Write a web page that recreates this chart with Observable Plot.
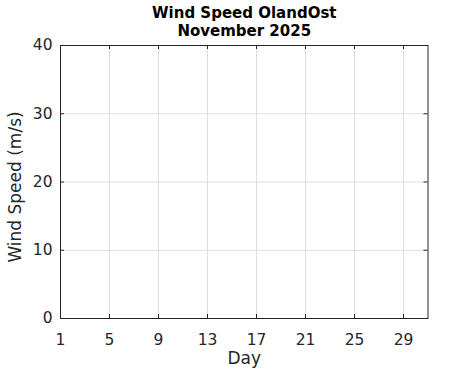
<!DOCTYPE html>
<html><head><meta charset="utf-8">
<script src="https://cdn.jsdelivr.net/npm/d3@7"></script>
<script src="https://cdn.jsdelivr.net/npm/@observablehq/plot@0.6"></script>
<style>body{margin:0;background:#fff} svg{display:block}</style>
</head><body><div id="chart"></div><script>
// Data (the reference chart shows no measurements for the month)
const days = [];
const windSpeed = [];
const xTicks = [1, 5, 9, 13, 17, 21, 25, 29];
const yTicks = [0, 10, 20, 30, 40];
const titleLine1 = "Wind Speed OlandOst";
const titleLine2 = "November 2025";
const xLabel = "Day";
const yLabel = "Wind Speed (m/s)";

const data = days.map((d, i) => ({day: d, speed: windSpeed[i]}));
const W = 471, H = 371, mL = 60, mR = 43.5, mT = 45, mB = 53;
const pw = W - mL - mR, ph = H - mT - mB, tk = 4;
const fg = "#262626";
const font = "DejaVu Sans";

const chart = Plot.plot({
  width: W, height: H,
  marginLeft: mL, marginRight: mR, marginTop: mT, marginBottom: mB,
  style: {fontFamily: font, background: "#fff", color: fg, overflow: "visible"},
  x: {domain: [1, 31], ticks: xTicks},
  y: {domain: [0, 40], ticks: yTicks},
  marks: [
    Plot.gridX(xTicks, {stroke: "#dedede", strokeOpacity: 1}),
    Plot.gridY(yTicks, {stroke: "#dedede", strokeOpacity: 1}),
    Plot.line(data, {x: "day", y: "speed", stroke: "#0072bd"}),
    Plot.tickX(xTicks, {x: d => d, insetTop: ph - tk, stroke: fg}),
    Plot.tickX(xTicks, {x: d => d, insetBottom: ph - tk, stroke: fg}),
    Plot.tickY(yTicks, {y: d => d, insetRight: pw - tk, stroke: fg}),
    Plot.tickY(yTicks, {y: d => d, insetLeft: pw - tk, stroke: fg}),
    Plot.frame({stroke: fg, strokeWidth: 1}),
    Plot.axisX(xTicks, {tickSize: 0, tickPadding: 15, fontSize: 15.5, fill: fg, label: null}),
    Plot.axisY(yTicks, {tickSize: 0, tickPadding: 8, fontSize: 15.5, fill: fg, label: null}),
    Plot.text([xLabel], {frameAnchor: "bottom", textAnchor: "middle", lineAnchor: "middle", dy: 40.5, fontSize: 17, fill: fg}),
    Plot.text([yLabel], {frameAnchor: "left", textAnchor: "middle", lineAnchor: "middle", rotate: -90, dx: -45, dy: 5, fontSize: 17, fill: fg}),
    Plot.text([titleLine1], {frameAnchor: "top", textAnchor: "middle", lineAnchor: "middle", dy: -32, fontSize: 15, fontWeight: "bold", fill: "#000"}),
    Plot.text([titleLine2], {frameAnchor: "top", textAnchor: "middle", lineAnchor: "middle", dy: -14, fontSize: 15, fontWeight: "bold", fill: "#000"})
  ]
});
document.getElementById("chart").appendChild(chart);
</script></body></html>
